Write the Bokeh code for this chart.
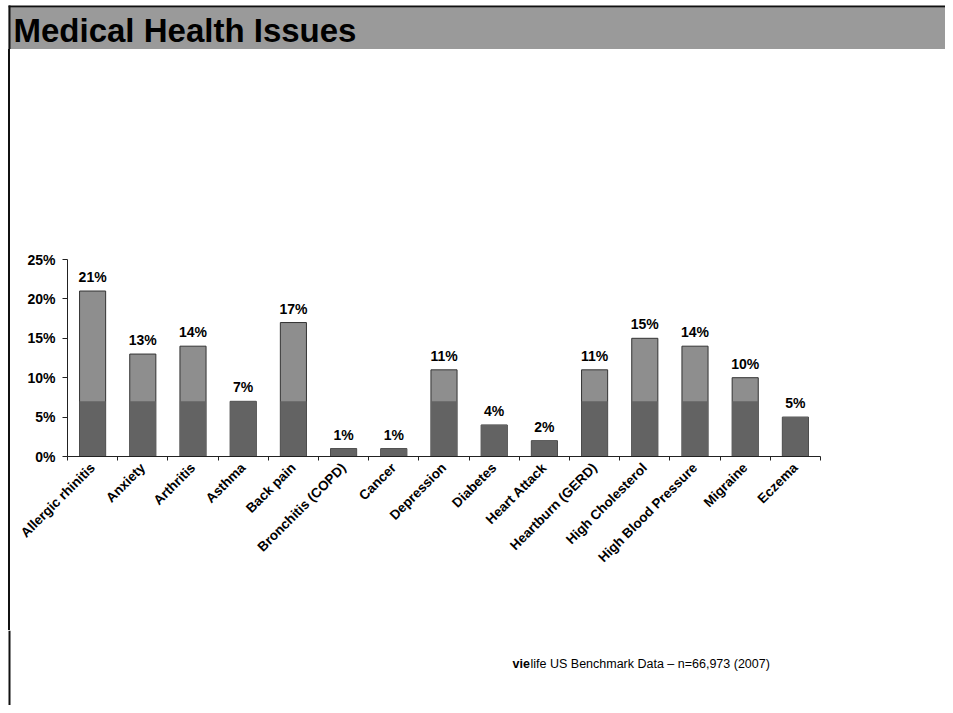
import numpy as np
from bokeh.plotting import figure
from bokeh.layouts import column, row
from bokeh.models import (Range1d, FixedTicker, PrintfTickFormatter, ColumnDataSource,
                          CustomJSTickFormatter)
from bokeh.core.properties import value
from bokeh.embed import file_html
from bokeh.resources import INLINE

# ---- data ----
categories = ["Allergic rhinitis", "Anxiety", "Arthritis", "Asthma", "Back pain",
              "Bronchitis (COPD)", "Cancer", "Depression", "Diabetes", "Heart Attack",
              "Heartburn (GERD)", "High Cholesterol", "High Blood Pressure", "Migraine", "Eczema"]
percent = [21, 13, 14, 7, 17, 1, 1, 11, 4, 2, 11, 15, 14, 10, 5]
y_ticks = [0, 5, 10, 15, 20, 25]
title_text = "Medical Health Issues"
source_bold = "vie"
source_rest = "life US Benchmark Data \u2013 n=66,973 (2007)"

# ---- style / layout ----
W, H = 945, 705
TITLE_H = 49
FOOT_H = 75
LEFT_OFF = 10          # 8px margin + 2px border line
MAIN_H = H - TITLE_H - FOOT_H
FONT = "Liberation Sans"
BORDER = "#111111"
BAND = "#9a9a9a"
SHADE_LEVEL = 7  # darker lower band of each bar (scan artefact)


def deco_figure(w, h):
    f = figure(width=w, height=h, x_range=Range1d(0, w), y_range=Range1d(0, h),
               x_axis_type=None, y_axis_type=None, output_backend="svg",
               toolbar_location=None, min_border=0)
    f.outline_line_color = None
    f.grid.visible = False
    f.background_fill_color = "white"
    f.border_fill_color = "white"
    return f


# title band (y measured upward inside the band figure)
tf = deco_figure(W, TITLE_H)
tf.quad(left=8, right=W, top=TITLE_H - 7, bottom=0, fill_color=BAND, line_color=None)
tf.quad(left=8, right=W, top=TITLE_H - 5, bottom=TITLE_H - 7, fill_color=BORDER, line_color=None)
tf.quad(left=8, right=10, top=TITLE_H - 5, bottom=0, fill_color=BORDER, line_color=None)
tf.text(x=[13], y=[TITLE_H - 30], text=[title_text], text_font=value(FONT),
        text_font_style="bold", text_font_size="33px", text_color="black",
        text_baseline="middle")

# footer
ff = deco_figure(W, FOOT_H)
ff.quad(left=8, right=10, top=FOOT_H, bottom=0, fill_color=BORDER, line_color=None)
ff.text(x=[512], y=[FOOT_H - 33], text=[source_bold], text_font=value(FONT),
        text_font_style="bold", text_font_size="12.5px", text_color="black",
        text_baseline="middle")
ff.text(x=[530], y=[FOOT_H - 33], text=[source_rest], text_font=value(FONT),
        text_font_size="12.5px", text_color="black", text_baseline="middle")

# main chart
n = len(categories)
x_center = np.arange(n) + 0.5

p = figure(width=W - LEFT_OFF, height=MAIN_H, x_range=Range1d(0, n), y_range=Range1d(0, 25),
           output_backend="svg", toolbar_location=None,
           min_border_left=67 - LEFT_OFF, min_border_right=W - 820, min_border_top=259 - TITLE_H,
           min_border_bottom=MAIN_H - (259 - TITLE_H) - 197)
p.outline_line_color = None
p.xgrid.visible = False
p.ygrid.visible = False
p.background_fill_color = "white"
p.border_fill_color = "white"

src = ColumnDataSource(dict(
    x=x_center, top=percent,
    shade=[min(v, SHADE_LEVEL) for v in percent],
    label=[f"{v}%" for v in percent]))

p.vbar(x="x", top="top", width=0.52, fill_color="#8e8e8e", line_color="#333333",
       line_width=1, source=src)
p.vbar(x="x", top="shade", width=0.52, fill_color="#636363", line_color=None, source=src)
p.text(x="x", y="top", text="label", y_offset=-14, text_align="center",
       text_baseline="middle", text_font=value(FONT), text_font_style="bold",
       text_font_size="14px", text_color="black", source=src)

# x axis
xa = p.xaxis[0]
xa.ticker = FixedTicker(ticks=list(x_center), minor_ticks=list(range(n + 1)))
xa.formatter = CustomJSTickFormatter(args=dict(names=categories),
                                     code="return names[Math.floor(tick)] || '';")
xa.major_label_orientation = np.pi / 4
xa.major_tick_line_color = None
xa.major_tick_out = 4
xa.major_tick_in = 0
xa.minor_tick_line_color = "#222222"
xa.minor_tick_out = 4
xa.minor_tick_in = 0
xa.major_label_standoff = 5
xa.axis_line_color = "#222222"
xa.major_label_text_font = FONT
xa.major_label_text_font_style = "bold"
xa.major_label_text_font_size = "13.5px"
xa.major_label_text_color = "black"

# y axis
ya = p.yaxis[0]
ya.ticker = FixedTicker(ticks=y_ticks)
ya.formatter = PrintfTickFormatter(format="%d%%")
ya.major_tick_out = 5
ya.major_tick_in = 0
ya.minor_tick_line_color = None
ya.major_tick_line_color = "#222222"
ya.axis_line_color = "#222222"
ya.major_label_standoff = 7
ya.major_label_text_font = FONT
ya.major_label_text_font_style = "bold"
ya.major_label_text_font_size = "14px"
ya.major_label_text_color = "black"

main_row = row(p, styles={"border-left": f"2px solid {BORDER}", "margin-left": "8px"})
layout = column(tf, main_row, ff)
open("out.html", "w").write(file_html(layout, INLINE))
